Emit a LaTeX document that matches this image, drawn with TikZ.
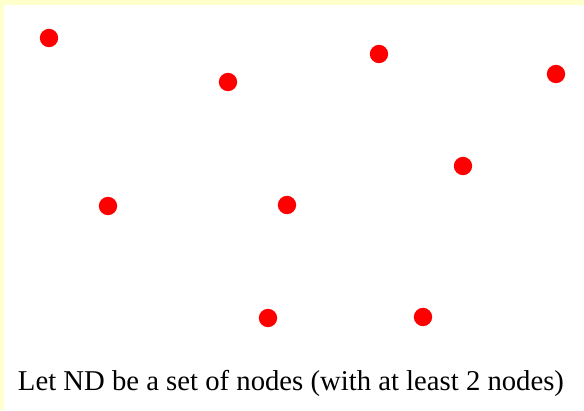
\documentclass[tikz,border=0pt]{standalone}
\usepackage{fontspec}
\setmainfont{Liberation Serif}
\usepackage{tikz}
\usepackage{xcolor}
\definecolor{cFrame}{RGB}{255,255,204}
\definecolor{cNode}{RGB}{255,0,0}
\tikzset{
	pt/.style   ={circle, fill=cNode, draw=none, minimum size=0.55cm, inner sep=0pt},
	caption/.style={font=\fontsize{24.5}{29}\selectfont, inner sep=0pt},
}

\begin{document}
\begin{tikzpicture}[x=0.03cm, y=-0.03cm]
	% frame: yellow strip on top and left
	\fill[cFrame] (0,0) rectangle (584,410);
	\fill[white] (4,5) rectangle (584,410);
	\useasboundingbox (0,0) rectangle (584,410);
	% the nodes of ND
	\foreach \name/\x/\y in {a/49/38, b/228/82, c/379/54, d/556/74, e/463/166,
		f/108/206, g/287/205, h/268/318, i/423/317}
		\node[pt] (\name) at (\x,\y) {};
	\node[caption, anchor=base] (cap) at (291,390) {Let ND be a set of nodes (with at least 2 nodes)};
\end{tikzpicture}
\end{document}
